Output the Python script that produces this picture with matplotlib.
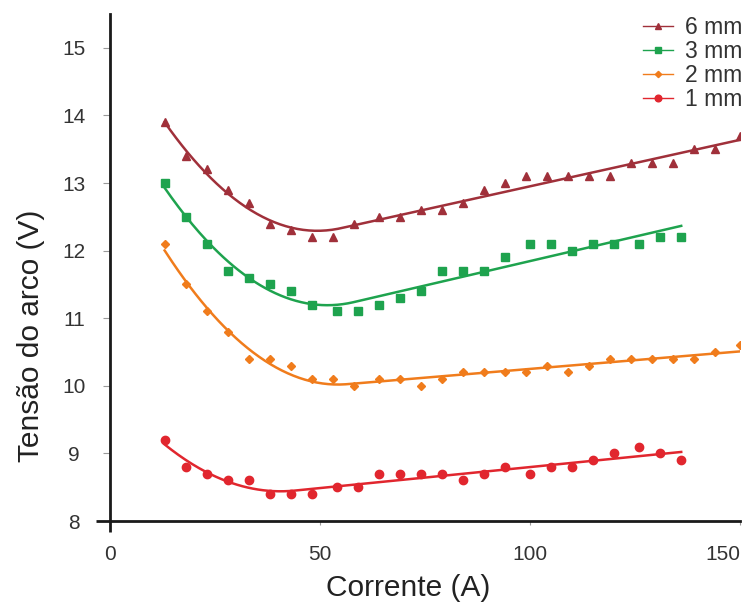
import numpy as np
import matplotlib
matplotlib.use("Agg")
import matplotlib.pyplot as plt

plt.rcParams['font.family'] = ['Liberation Sans', 'DejaVu Sans']

# corrente (A)
x_longo = [13, 18, 23, 28, 33, 38, 43, 48, 53, 58, 64, 69, 74, 79, 84, 89, 94, 99,
           104, 109, 114, 119, 124, 129, 134, 139, 144, 150]
x_curto = [13, 18, 23, 28, 33, 38, 43, 48, 54, 59, 64, 69, 74, 79, 84, 89, 94, 100,
           105, 110, 115, 120, 126, 131, 136]

# tensao do arco (V)
v_6mm = [13.9, 13.4, 13.2, 12.9, 12.7, 12.4, 12.3, 12.2, 12.2, 12.4, 12.5, 12.5, 12.6, 12.6,
         12.7, 12.9, 13.0, 13.1, 13.1, 13.1, 13.1, 13.1, 13.3, 13.3, 13.3, 13.5, 13.5, 13.7]
v_3mm = [13.0, 12.5, 12.1, 11.7, 11.6, 11.5, 11.4, 11.2, 11.1, 11.1, 11.2, 11.3, 11.4, 11.7,
         11.7, 11.7, 11.9, 12.1, 12.1, 12.0, 12.1, 12.1, 12.1, 12.2, 12.2]
v_2mm = [12.1, 11.5, 11.1, 10.8, 10.4, 10.4, 10.3, 10.1, 10.1, 10.0, 10.1, 10.1, 10.0, 10.1,
         10.2, 10.2, 10.2, 10.2, 10.3, 10.2, 10.3, 10.4, 10.4, 10.4, 10.4, 10.4, 10.5, 10.6]
v_1mm = [9.2, 8.8, 8.7, 8.6, 8.6, 8.4, 8.4, 8.4, 8.5, 8.5, 8.7, 8.7, 8.7, 8.7, 8.6, 8.7,
         8.8, 8.7, 8.8, 8.8, 8.9, 9.0, 9.1, 9.0, 8.9]

series = [
    ("6 mm", x_longo, v_6mm, "#a0303a", "^", 6),
    ("3 mm", x_curto, v_3mm, "#1ea34e", "s", 6),
    ("2 mm", x_longo, v_2mm, "#f07c1c", "D", 4),
    ("1 mm", x_curto, v_1mm, "#e1262e", "o", 6),
]


def ajuste(x, y):
    # reta + termo quadratico abaixo de um ponto de quebra (busca em grade)
    x = np.asarray(x, float)
    y = np.asarray(y, float)
    melhor = None
    for q in np.arange(30, 90, 0.5):
        A = np.column_stack([np.ones_like(x), x, np.clip(q - x, 0, None) ** 2])
        coef = np.linalg.lstsq(A, y, rcond=None)[0]
        erro = np.sum((A @ coef - y) ** 2)
        if melhor is None or erro < melhor[0]:
            melhor = (erro, q, coef)
    _, q, coef = melhor
    xs = np.linspace(x.min(), x.max(), 300)
    return xs, coef[0] + coef[1] * xs + coef[2] * np.clip(q - xs, 0, None) ** 2


fig = plt.figure(figsize=(7.45, 6.04), dpi=100)
ax = fig.add_axes([0.1477, 0.1374, 0.8456, 0.8394])

handles = []
for nome, x, y, cor, marc, tam in series:
    xs, ys = ajuste(x, y)
    ax.plot(xs, ys, color=cor, lw=1.8, zorder=2)
    ax.plot(x, y, ls="none", marker=marc, ms=tam, color=cor, mec=cor, zorder=3)
    h, = ax.plot([], [], color=cor, lw=1.0, marker=marc, ms=tam * 0.8, mec=cor)
    h.set_label(nome)
    handles.append(h)

ax.set_xlim(0, 150)
ax.set_ylim(8, 15.5)
ax.set_xticks([0, 50, 100, 150])
ax.set_yticks(range(8, 16))

for s in ["top", "right"]:
    ax.spines[s].set_visible(False)
for s in ["left", "bottom"]:
    ax.spines[s].set_linewidth(2.0)
    ax.spines[s].set_color("#1a1a1a")

ax.tick_params(axis="y", length=5, width=0.8, color="#999999", labelsize=15,
               labelcolor="#333333", pad=21)
ax.tick_params(axis="x", length=3, width=0.8, color="#999999", labelsize=15,
               labelcolor="#333333", pad=14)
for t in ax.get_yticklabels():
    t.set_horizontalalignment("center")
ax.get_xticklabels()[-1].set_horizontalalignment("right")

# prolongamento dos eixos no canto
t8 = ax.yaxis.get_major_ticks()[0].tick1line
t8.set_markeredgecolor("#1a1a1a"); t8.set_markersize(10); t8.set_markeredgewidth(2.0)
t0 = ax.xaxis.get_major_ticks()[0].tick1line
t0.set_markeredgecolor("#1a1a1a"); t0.set_markersize(8); t0.set_markeredgewidth(2.0)

ax.set_xlabel("Corrente (A)", fontsize=21.5, color="#222222")
ax.set_ylabel("Tensão do arco (V)", fontsize=21.5, color="#222222")
ax.xaxis.set_label_coords(0.473, -0.104)
ax.yaxis.set_label_coords(-0.104, 0.365)

leg = ax.legend(handles=handles, loc="upper right", bbox_to_anchor=(1.0, 0.978),
                bbox_transform=fig.transFigure, frameon=False, fontsize=16.5,
                handlelength=1.3, handletextpad=0.55, labelspacing=0.05,
                borderaxespad=0.0, borderpad=0.1)
for t in leg.get_texts():
    t.set_color("#333333")

fig.savefig("out.png", dpi=100)
